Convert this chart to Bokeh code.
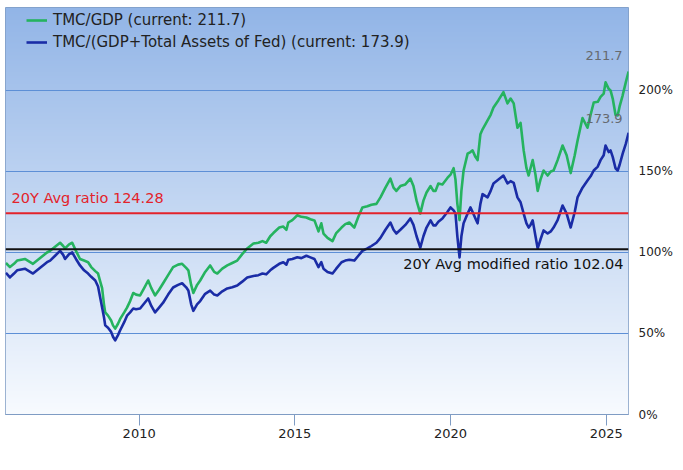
import numpy as np
from bokeh.plotting import figure
from bokeh.models import (Range1d, FixedTicker, PrintfTickFormatter, Span, Label,
                          Legend, LegendItem, ColumnDataSource)
from bokeh.embed import file_html
from bokeh.resources import INLINE

# ---------------- data ----------------
years = [2005.72, 2005.85, 2005.98, 2006.08, 2006.21, 2006.33, 2006.46, 2006.59, 2006.75, 2006.91,
         2007.04, 2007.14, 2007.30, 2007.46, 2007.56, 2007.62, 2007.75, 2007.85, 2007.97, 2008.10,
         2008.23, 2008.36, 2008.46, 2008.59, 2008.68, 2008.75, 2008.81, 2008.87, 2008.91, 2009.00,
         2009.10, 2009.16, 2009.23, 2009.32, 2009.39, 2009.52, 2009.61, 2009.71, 2009.81, 2009.90,
         2010.03, 2010.16, 2010.29, 2010.39, 2010.51, 2010.64, 2010.77, 2010.93, 2011.09, 2011.25,
         2011.38, 2011.51, 2011.58, 2011.67, 2011.74, 2011.86, 2011.96, 2012.12, 2012.28, 2012.41,
         2012.51, 2012.67, 2012.83, 2012.99, 2013.15, 2013.31, 2013.47, 2013.67, 2013.83, 2013.96,
         2014.08, 2014.21, 2014.31, 2014.50, 2014.63, 2014.73, 2014.79, 2014.92, 2015.08, 2015.21,
         2015.37, 2015.50, 2015.63, 2015.76, 2015.85, 2015.92, 2016.05, 2016.21, 2016.33, 2016.50,
         2016.62, 2016.75, 2016.91, 2017.04, 2017.17, 2017.33, 2017.46, 2017.62, 2017.75, 2017.91,
         2018.07, 2018.17, 2018.26, 2018.39, 2018.55, 2018.71, 2018.81, 2018.91, 2019.03, 2019.13,
         2019.23, 2019.36, 2019.45, 2019.52, 2019.61, 2019.74, 2019.90, 2020.00, 2020.10, 2020.16,
         2020.22, 2020.29, 2020.35, 2020.42, 2020.55, 2020.64, 2020.71, 2020.80, 2020.87, 2020.96,
         2021.03, 2021.19, 2021.29, 2021.38, 2021.54, 2021.70, 2021.83, 2021.93, 2022.03, 2022.15,
         2022.25, 2022.35, 2022.44, 2022.51, 2022.57, 2022.64, 2022.73, 2022.80, 2022.89, 2022.99,
         2023.12, 2023.22, 2023.31, 2023.44, 2023.60, 2023.73, 2023.86, 2023.99, 2024.08, 2024.24,
         2024.40, 2024.50, 2024.60, 2024.73, 2024.82, 2024.92, 2024.98, 2025.08, 2025.14, 2025.21,
         2025.30, 2025.37, 2025.43, 2025.53, 2025.63, 2025.72]

tmc_gdp = [93.5, 91.0, 93.0, 95.0, 95.5, 96.0, 94.5, 93.0, 95.5, 98.0,
           100.0, 101.0, 103.5, 106.0, 104.0, 102.5, 105.0, 106.0, 101.0, 96.0,
           95.0, 94.0, 91.0, 88.5, 87.0, 82.0, 78.0, 68.0, 63.0, 61.0,
           58.0, 55.0, 53.0, 56.0, 59.0, 63.0, 66.0, 70.0, 75.0, 74.0,
           73.5, 78.0, 82.7, 78.0, 73.5, 77.0, 81.0, 86.0, 91.0, 92.5,
           93.0, 90.5, 89.0, 80.0, 75.0, 80.0, 82.7, 88.0, 92.0, 88.0,
           87.0, 90.0, 92.0, 93.5, 95.0, 99.0, 102.5, 105.5, 106.0, 107.0,
           106.0, 110.0, 112.0, 115.4, 116.0, 114.0, 118.5, 120.0, 123.0, 122.0,
           121.6, 120.5, 119.8, 113.0, 118.0, 111.7, 109.0, 107.0, 112.0, 115.4,
           117.5, 118.5, 115.4, 122.0, 127.8, 128.5, 129.5, 130.0, 134.0, 140.0,
           145.6, 140.0, 138.0, 141.0, 142.0, 145.6, 141.0, 132.0, 124.0, 132.0,
           137.0, 141.0, 138.0, 138.0, 142.6, 142.0, 146.0, 148.0, 152.0, 145.0,
           130.0, 120.0, 138.0, 150.6, 161.0, 162.0, 163.0, 159.0, 157.0, 173.0,
           176.0, 181.5, 185.0, 189.5, 194.0, 199.0, 192.0, 195.0, 192.0, 177.0,
           180.0, 163.0, 152.0, 147.5, 152.0, 157.0, 148.0, 138.0, 145.0, 150.6,
           147.5, 150.0, 150.6, 157.0, 166.0, 160.0, 149.0, 160.0, 169.0, 183.0,
           177.0, 185.0, 192.6, 193.0, 196.0, 198.0, 205.0, 201.0, 200.0, 195.0,
           185.0, 184.6, 190.0, 197.0, 205.0, 211.7]

tmc_gdp_fed = [87.5, 84.6, 87.0, 89.0, 89.5, 90.0, 88.5, 87.0, 89.5, 92.0,
               94.0, 95.0, 98.0, 101.0, 98.5, 96.0, 99.0, 100.0, 96.0, 92.0,
               89.0, 87.0, 85.0, 82.7, 79.0, 72.0, 66.0, 60.0, 55.0, 53.5,
               51.0, 48.0, 45.7, 49.0, 52.0, 57.0, 61.0, 63.0, 65.4, 65.0,
               65.4, 68.5, 71.6, 67.0, 63.0, 66.0, 69.0, 74.0, 78.4, 80.0,
               81.0, 78.5, 76.5, 68.0, 64.0, 68.0, 70.0, 74.5, 76.5, 74.0,
               73.5, 76.0, 77.8, 78.5, 79.6, 82.0, 84.6, 85.5, 86.0, 87.0,
               86.5, 89.0, 90.5, 93.0, 94.0, 92.5, 95.5, 96.0, 97.0, 96.5,
               98.0, 97.0, 96.0, 91.0, 94.0, 90.0, 88.0, 87.0, 90.0, 94.0,
               95.0, 95.5, 95.0, 98.0, 101.0, 102.5, 104.0, 106.0, 109.0, 114.0,
               118.5, 114.0, 111.7, 114.0, 117.0, 121.0, 117.0, 110.0, 103.0, 110.0,
               115.4, 119.8, 116.7, 116.7, 119.0, 121.0, 125.0, 127.8, 126.0, 124.0,
               110.0, 97.0, 110.0, 118.0, 124.0, 127.8, 125.0, 121.0, 118.0, 130.0,
               136.0, 134.0, 138.0, 142.6, 145.0, 147.5, 142.6, 144.0, 143.0, 134.0,
               131.0, 124.0, 118.0, 115.4, 117.0, 119.8, 110.0, 102.5, 108.0, 113.6,
               111.7, 113.0, 115.4, 120.0, 129.0, 124.0, 115.4, 125.0, 134.0, 140.0,
               144.4, 147.0, 150.6, 153.0, 157.0, 160.0, 166.0, 162.0, 163.0, 159.0,
               152.0, 150.6, 154.0, 161.0, 167.0, 173.9]

avg_ratio = 124.28
avg_modified_ratio = 102.04
x_ticks = [2010, 2015, 2020, 2025]
y_ticks = [0, 50, 100, 150, 200]

FONT = "DejaVu Sans"
X0, X1 = 2005.707, 2025.717
Y0, Y1 = 0, 251.2

p = figure(width=683, height=470, output_backend="svg", toolbar_location=None,
           x_range=Range1d(X0, X1), y_range=Range1d(Y0, Y1),
           y_axis_location="right",
           min_border_left=5, min_border_right=55, min_border_top=7, min_border_bottom=56)
p.border_fill_color = "#ffffff"
p.background_fill_color = "#ffffff"

# vertical gradient background (blue at top to white at bottom)
H = 407
top = np.array([146, 181, 231], dtype=float)
bot = np.array([248, 251, 255], dtype=float)
img = np.empty((H, 1), dtype=np.uint32)
view = img.view(dtype=np.uint8).reshape((H, 1, 4))
for i in range(H):
    t = i / (H - 1)  # 0 bottom -> 1 top
    c = bot + (top - bot) * t
    view[i, 0, 0] = int(c[0]); view[i, 0, 1] = int(c[1]); view[i, 0, 2] = int(c[2]); view[i, 0, 3] = 255
p.image_rgba(image=[img], x=X0, y=Y0, dw=X1 - X0, dh=Y1 - Y0, level="image")

src = ColumnDataSource(dict(x=years, g=tmc_gdp, b=tmc_gdp_fed))
GREEN = "#25b35f"
BLUE = "#1a2ca6"
r_g = p.line("x", "g", source=src, line_color=GREEN, line_width=2.6, line_join="round")
r_b = p.line("x", "b", source=src, line_color=BLUE, line_width=2.6, line_join="round")

# average lines
p.add_layout(Span(location=avg_ratio, dimension="width", line_color="#e3232b", line_width=2))
p.add_layout(Span(location=avg_modified_ratio, dimension="width", line_color="#111111", line_width=2))

p.add_layout(Label(x=X0, y=avg_ratio, x_offset=6, y_offset=15, text=f"20Y Avg ratio {avg_ratio:.2f}",
                   text_font=FONT, text_font_size="14.5px", text_color="#e3232b",
                   text_align="left", text_baseline="middle"))
p.add_layout(Label(x=X1, y=avg_modified_ratio, x_offset=-5, y_offset=-15,
                   text=f"20Y Avg modified ratio {avg_modified_ratio:.2f}",
                   text_font=FONT, text_font_size="14.5px", text_color="#111111",
                   text_align="right", text_baseline="middle"))

# current value labels
p.add_layout(Label(x=years[-1], y=tmc_gdp[-1], x_offset=-6, y_offset=16, text=f"{tmc_gdp[-1]:.1f}",
                   text_font=FONT, text_font_size="13px", text_color="#666a70",
                   text_align="right", text_baseline="middle"))
p.add_layout(Label(x=years[-1], y=tmc_gdp_fed[-1], x_offset=-6, y_offset=14, text=f"{tmc_gdp_fed[-1]:.1f}",
                   text_font=FONT, text_font_size="13px", text_color="#666a70",
                   text_align="right", text_baseline="middle"))

legend = Legend(items=[
    LegendItem(label=f"TMC/GDP (current: {tmc_gdp[-1]:.1f})", renderers=[r_g]),
    LegendItem(label=f"TMC/(GDP+Total Assets of Fed) (current: {tmc_gdp_fed[-1]:.1f})", renderers=[r_b]),
], location=(21, 362))
legend.background_fill_alpha = 0
legend.border_line_color = None
legend.label_text_font = FONT
legend.label_text_font_size = "15px"
legend.label_text_color = "#222222"
legend.glyph_width = 21
legend.glyph_height = 20
legend.label_height = 20
legend.spacing = 2
legend.padding = 0
legend.margin = 0
legend.label_standoff = 6
p.add_layout(legend)

# axes
AX = "#7f9cc4"
p.xaxis.ticker = FixedTicker(ticks=x_ticks)
p.xaxis.major_tick_out = 11
p.xaxis.major_tick_in = 0
p.xaxis.major_tick_line_color = AX
p.xaxis.minor_tick_line_color = None
p.xaxis.axis_line_color = AX
p.xaxis.major_label_standoff = 3
p.xaxis.major_label_text_font = FONT
p.xaxis.major_label_text_font_size = "13px"
p.xaxis.major_label_text_color = "#222222"

p.yaxis.ticker = FixedTicker(ticks=y_ticks)
p.yaxis.formatter = PrintfTickFormatter(format="%d%%")
p.yaxis.major_tick_line_color = None
p.yaxis.minor_tick_line_color = None
p.yaxis.axis_line_color = None
p.yaxis.major_label_standoff = 4
p.yaxis.major_label_text_font = FONT
p.yaxis.major_label_text_font_size = "12px"
p.yaxis.major_label_text_color = "#222222"

p.xgrid.grid_line_color = None
p.ygrid.grid_line_color = "#5d8fd6"
p.ygrid.grid_line_width = 1

p.outline_line_color = AX
p.outline_line_width = 1

open("out.html", "w").write(file_html(p, INLINE))
